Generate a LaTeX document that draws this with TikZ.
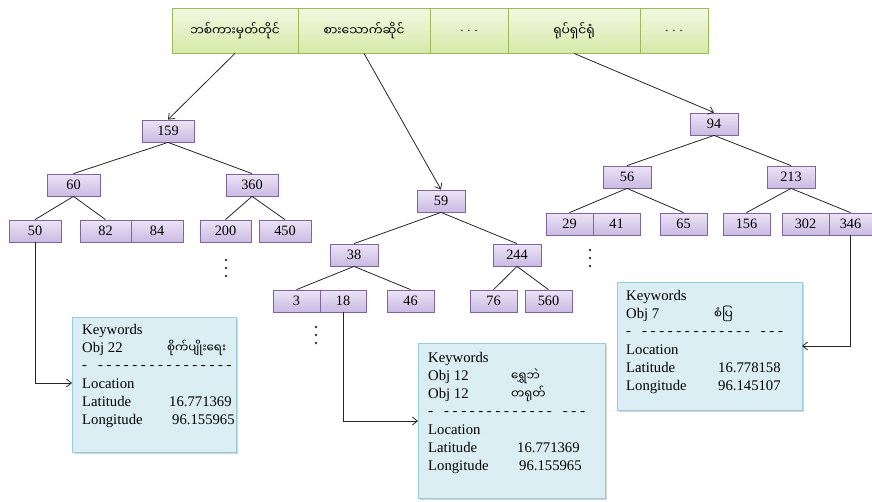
\documentclass[tikz,border=0pt]{standalone}
\usepackage{fontspec}
\setmainfont{Liberation Serif}
\newfontfamily\tms{Liberation Serif}
\newfontfamily\mya[Script=Myanmar]{Noto Sans Myanmar UI}
\usetikzlibrary{arrows.meta,shadows}

\definecolor{hdrtop}{RGB}{242,248,226}
\definecolor{hdrbot}{RGB}{214,233,168}
\definecolor{hdrline}{RGB}{155,187,89}
\definecolor{keytop}{RGB}{236,228,246}
\definecolor{keybot}{RGB}{202,186,226}
\definecolor{keyline}{RGB}{128,100,162}
\definecolor{infofill}{RGB}{219,238,244}
\definecolor{infoline}{RGB}{150,205,222}

\tikzset{
  hdr/.style={draw=hdrline, line width=0.8pt, top color=hdrtop, bottom color=hdrbot,
    minimum height=45, inner sep=0, font=\mya\fontsize{12.3}{14}\selectfont},
  key/.style={draw=keyline, line width=0.8pt, top color=keytop, bottom color=keybot,
    minimum width=48, minimum height=22, inner sep=0, font=\tms\fontsize{14.3}{15}\selectfont},
  info/.style={draw=infoline, line width=0.8pt, fill=infofill, inner sep=0,
    anchor=north west, drop shadow={shadow xshift=2pt, shadow yshift=-2pt, opacity=0.35}},
  txt/.style={anchor=base west, inner sep=0, font=\tms\fontsize{14.7}{16}\selectfont},
  mtxt/.style={anchor=base west, inner sep=0, font=\mya\fontsize{11.8}{14}\selectfont},
  edge/.style={draw=black!85, line width=0.8pt},
  link/.style={draw=black!85, line width=0.8pt, -{Straight Barb[length=5pt,width=8pt]}},
  vdot/.style={circle, fill=black!80, inner sep=0, minimum size=2.6},
}

\begin{document}
\begin{tikzpicture}[x=1pt, y=-1pt]
\useasboundingbox (0,0) rectangle (872,501);

% category header
\node[hdr, minimum width=126] (h1) at (235,30.5) {ဘစ်ကားမှတ်တိုင်};
\node[hdr, minimum width=132] (h2) at (364,30.5) {စားသောက်ဆိုင်};
\node[hdr, minimum width=78]  (h3) at (469,30.5) {\tms . . .};
\node[hdr, minimum width=132] (h4) at (574,30.5) {ရုပ်ရှင်ရုံ};
\node[hdr, minimum width=68]  (h5) at (674,30.5) {\tms . . .};

% left tree
\node[key, minimum width=52] (k159) at (168,131) {159};
\node[key, minimum width=53] (k60)  at (73.5,185) {60};
\node[key, minimum width=52] (k360) at (252,185) {360};
\node[key, minimum width=52] (k50)  at (35,231) {50};
\node[key, minimum width=51] (k82)  at (105.5,231) {82};
\node[key, minimum width=52] (k84)  at (157,231) {84};
\node[key, minimum width=51] (k200) at (225.5,231) {200};
\node[key, minimum width=52] (k450) at (285,231) {450};

% middle tree
\node[key] (k59)  at (441,201) {59};
\node[key] (k38)  at (354,255) {38};
\node[key] (k244) at (517,255) {244};
\node[key, minimum width=47] (k3)   at (296.5,301) {3};
\node[key, minimum width=46] (k18)  at (343,301) {18};
\node[key, minimum width=47] (k46)  at (410.5,301) {46};
\node[key, minimum width=47] (k76)  at (493.5,301) {76};
\node[key, minimum width=47] (k560) at (548.5,301) {560};

% right tree
\node[key] (k94)  at (714,124) {94};
\node[key] (k56)  at (627,177) {56};
\node[key] (k213) at (791,177) {213};
\node[key, minimum width=47] (k29)  at (569.5,224) {29};
\node[key, minimum width=47] (k41)  at (616.5,224) {41};
\node[key, minimum width=47] (k65)  at (683.5,224) {65};
\node[key, minimum width=47] (k156) at (746.5,224) {156};
\node[key, minimum width=47] (k302) at (805.5,224) {302};
\node[key, minimum width=43] (k346) at (850.5,224) {346};

% tree edges
\foreach \p/\c in {k159/k60, k159/k360, k60/k50, k60/k82, k360/k200, k360/k450,
                   k59/k38, k59/k244, k38/k3, k38/k46, k244/k76, k244/k560,
                   k94/k56, k94/k213, k56/k29, k56/k65, k213/k156, k213/k346}
  \path[edge] (\p.south) -- (\c.north);

% header to tree roots
\path[link] (h1.south) -- (k159.north);
\path[link] (h2.south) -- (k59.north);
\path[link] (h4.south) -- (k94.north);

% elided subtrees
\foreach \x/\y/\n in {226/260/a, 316/327/b, 590/250/c}
  \foreach \i in {0,1,2}
    \node[vdot] (dot\n\i) at (\x,\y+8*\i) {};

% record boxes
\node[info, minimum width=164, minimum height=135] (b1) at (72,317) {};
\node[txt] (b1a) at (82,334) {Keywords};
\node[txt] (b1b) at (82,352) {Obj 22};
\node[mtxt] (b1c) at (167,352) {စိုက်ပျိုးရေး};
\node[txt] (b1d) at (82,369) {-\ \ \ - - - - - - - - - - - - - - - -};
\node[txt] (b1e) at (82,388) {Location};
\node[txt] (b1f) at (82,406) {Latitude};
\node[txt] (b1g) at (169,406) {16.771369};
\node[txt] (b1h) at (82,424) {Longitude};
\node[txt] (b1i) at (172,424) {96.155965};

\node[info, minimum width=187, minimum height=155] (b2) at (418,343) {};
\node[txt] (b2a) at (428,362) {Keywords};
\node[txt] (b2b) at (428,380) {Obj 12};
\node[mtxt] (b2c) at (511,380) {ရွှေဘဲ};
\node[txt] (b2d) at (428,398) {Obj 12};
\node[mtxt] (b2e) at (511,398) {တရုတ်};
\node[txt] (b2f) at (428,415) {-\ \ \ - - - - - - - - - - - - -\ \ \ - - -};
\node[txt] (b2g) at (428,434) {Location};
\node[txt] (b2h) at (428,452) {Latitude};
\node[txt] (b2i) at (517,452) {16.771369};
\node[txt] (b2j) at (428,470) {Longitude};
\node[txt] (b2k) at (519,470) {96.155965};

\node[info, minimum width=185, minimum height=128] (b3) at (617,282) {};
\node[txt] (b3a) at (626,300) {Keywords};
\node[txt] (b3b) at (626,318) {Obj 7};
\node[mtxt] (b3c) at (714,318) {စံပြ};
\node[txt] (b3d) at (626,335) {-\ \ \ - - - - - - - - - - - - -\ \ \ - - -};
\node[txt] (b3e) at (626,354) {Location};
\node[txt] (b3f) at (626,372) {Latitude};
\node[txt] (b3g) at (718,372) {16.778158};
\node[txt] (b3h) at (626,390) {Longitude};
\node[txt] (b3i) at (718,390) {96.145107};

% leaf-to-record links
\coordinate (e1) at (72,383);
\coordinate (e2) at (418,421);
\coordinate (e3) at (802,346);
\path[link] (k50.south) |- (e1);
\path[link] (k18.south) |- (e2);
\path[link] (k346.south) |- (e3);
\end{tikzpicture}
\end{document}
